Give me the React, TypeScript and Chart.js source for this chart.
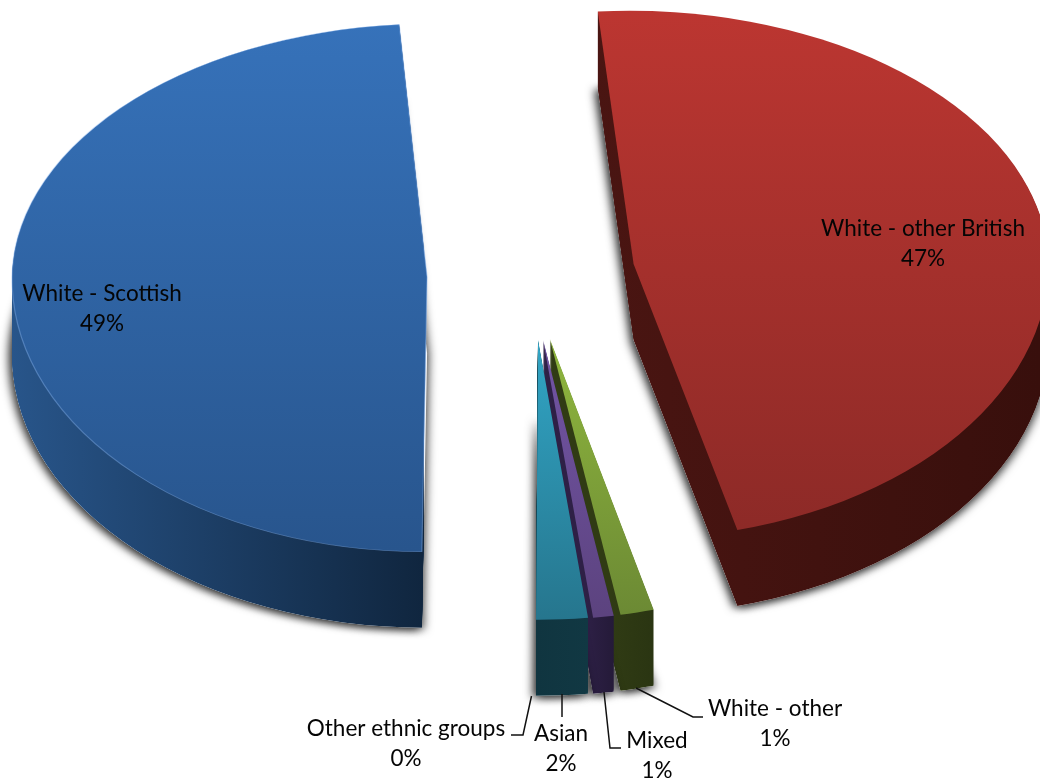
import React, { useEffect, useRef } from "react";
import { Chart, registerables } from "chart.js";

Chart.register(...registerables);

const categories = ["White - other British", "White - other", "Mixed", "Asian", "Other ethnic groups", "White - Scottish"];
const shares = [47.2, 1.3, 0.8, 2.0, 0, 48.7];
const baseColors = ["#A5302C", "#7C9B38", "#63498E", "#2A8CA8", "#2A8CA8", "#2F639F"];

const SQUASH_UP = 0.61;
const SQUASH_SHIFT = 0.63;
const EXPLODE = 104;
const DEPTH = 76;
const W = 1040;
const H = 781;

// Per-slice view adjustments (by index in categories): perspective of the 3D view.
const squashLow = [0.662, 0.674, 0.674, 0.674, 0.674, 0.662];
const nudgeX = [0, -3, -3, 1, 0, 0];
const shearUp = [0.0096, 0, 0, 0, 0, -0.0096];
const shearLow = [0, 0, 0, 0, 0, -0.0075];
const wallRight = [W, W, W, W, W, 424];

// Drawing order, back to front, and the shading of each slice.
const drawOrder = [0, 5, 1, 2, 4, 3];
const faceShade: Record<number, [number, number, string, string]> = {
  0: [10, 530, "#BC3631", "#8D2A27"],
  1: [340, 612, "#8FB63E", "#6C8A34"],
  2: [340, 615, "#7355A6", "#5C437F"],
  3: [340, 618, "#31A5C5", "#26768E"],
  4: [340, 618, "#31A5C5", "#26768E"],
  5: [22, 550, "#3672BA", "#28558D"],
};
const wallShade: Record<number, [number, number, string, string]> = {
  0: [595, 1040, "#4A1512", "#380F0C"],
  1: [610, 655, "#303B14", "#2A3512"],
  2: [585, 615, "#2E2046", "#241A38"],
  3: [535, 590, "#103540", "#113843"],
  4: [535, 590, "#103540", "#113843"],
  5: [12, 425, "#28558A", "#10263F"],
};
const shadowPasses: [number, string][] = [
  [-4, "rgba(0,0,0,0.7)"],
  [3, "rgba(0,0,0,0.55)"],
];

const labelBoxes: { x: number; y: number; name: number }[] = [
  { name: 0, x: 923, y: 229 },
  { name: 1, x: 775, y: 709 },
  { name: 2, x: 657, y: 741 },
  { name: 3, x: 561, y: 734 },
  { name: 4, x: 406, y: 729 },
  { name: 5, x: 102, y: 294 },
];
const leaders: number[][][] = [
  [[636, 688], [693, 717], [703, 717]],
  [[604, 692], [610, 748], [621, 748]],
  [[562, 694], [562, 717]],
  [[531.5, 696], [523, 735], [511, 735]],
];

const pie3d = {
  id: "pie3d",
  beforeDatasetDraw(chart: any) {
    const ctx: CanvasRenderingContext2D = chart.ctx;
    const arcs = chart.getDatasetMeta(0).data;
    for (const i of drawOrder) {
      const arc = arcs[i];
      const half = (arc.startAngle + arc.endAngle) / 2;
      const dx = EXPLODE * Math.cos(half) + nudgeX[i];
      const dy = EXPLODE * Math.sin(half) * SQUASH_SHIFT;
      const orig = arc.options;

      // The near half of the disc is foreshortened less than the far half.
      const paintHalves = (extra: number, style: (k: number, axis: number) => any, right = W + 50) => {
        const axis = Math.round(arc.y + dy + extra);
        for (const [k, s, top, bottom] of [
          [SQUASH_UP, shearUp[i], 0, axis],
          [squashLow[i], shearLow[i], axis, H],
        ]) {
          ctx.save();
          ctx.beginPath();
          ctx.rect(-50, top, right + 50, bottom - top);
          ctx.clip();
          arc.options = { ...orig, ...style(k, axis) };
          ctx.translate(dx, axis);
          ctx.scale(1, k);
          ctx.transform(1, 0, s, 1, 0, 0);
          ctx.translate(0, -arc.y);
          arc.draw(ctx);
          ctx.restore();
        }
      };

      const [wx0, wx1, wc0, wc1] = wallShade[i];
      const wall = ctx.createLinearGradient(wx0 - dx, 0, wx1 - dx, 0);
      wall.addColorStop(0, wc0);
      wall.addColorStop(1, wc1);
      const wallStyle = () => ({ backgroundColor: wall, borderWidth: 0 });

      // soft cast shadow of the slice's underside; the white shape is covered by the walls
      for (const [offsetX, colour] of shadowPasses) {
        ctx.save();
        ctx.shadowColor = colour;
        ctx.shadowBlur = 8;
        ctx.shadowOffsetX = offsetX;
        ctx.shadowOffsetY = 2;
        paintHalves(DEPTH, () => ({ backgroundColor: "#fff", borderWidth: 0 }));
        ctx.restore();
      }

      // side walls
      for (let d = DEPTH; d > 0; d--) paintHalves(d, wallStyle, wallRight[i]);

      // top face
      const [fy0, fy1, fc0, fc1] = faceShade[i];
      paintHalves(0, (k, axis) => {
        const toLocal = (y: number) => arc.y + (y - axis) / k;
        const face = ctx.createLinearGradient(0, toLocal(fy0), 0, toLocal(fy1));
        face.addColorStop(0, fc0);
        face.addColorStop(1, fc1);
        return {
          backgroundColor: face,
          borderColor: i === 5 ? "rgba(130,175,235,0.45)" : "rgba(0,0,0,0)",
          borderWidth: i === 5 ? 1.2 : 0,
        };
      });
      arc.options = orig;
    }
    return false;
  },
  afterDatasetsDraw(chart: any) {
    const ctx: CanvasRenderingContext2D = chart.ctx;
    ctx.save();
    ctx.strokeStyle = "#111";
    ctx.lineWidth = 1.5;
    for (const pts of leaders) {
      ctx.beginPath();
      pts.forEach(([x, y], n) => (n ? ctx.lineTo(x, y) : ctx.moveTo(x, y)));
      ctx.stroke();
    }
    ctx.font = '22.5px Lato, "Open Sans", sans-serif';
    ctx.fillStyle = "#050505";
    ctx.textAlign = "center";
    ctx.textBaseline = "middle";
    for (const b of labelBoxes) {
      ctx.fillText(categories[b.name], b.x, b.y);
      ctx.fillText(`${Math.round(shares[b.name])}%`, b.x, b.y + 30);
    }
    ctx.restore();
  },
};

export default function App() {
  const ref = useRef<HTMLCanvasElement>(null);
  useEffect(() => {
    const chart = new Chart(ref.current as HTMLCanvasElement, {
      type: "pie",
      data: {
        labels: categories,
        datasets: [{ data: shares, backgroundColor: baseColors, borderWidth: 0 }],
      },
      options: {
        animation: false,
        responsive: false,
        events: [],
        rotation: -4.4,
        radius: 415,
        layout: { padding: { left: 22, bottom: 231 } },
        plugins: { legend: { display: false }, tooltip: { enabled: false } },
      } as any,
      plugins: [pie3d as any],
    });
    return () => chart.destroy();
  }, []);
  return (
    <div style={{ position: "absolute", left: 0, top: 0, width: W, height: H, overflow: "hidden", background: "#fff" }}>
      <canvas ref={ref} width={W} height={H} style={{ display: "block" }} />
    </div>
  );
}
